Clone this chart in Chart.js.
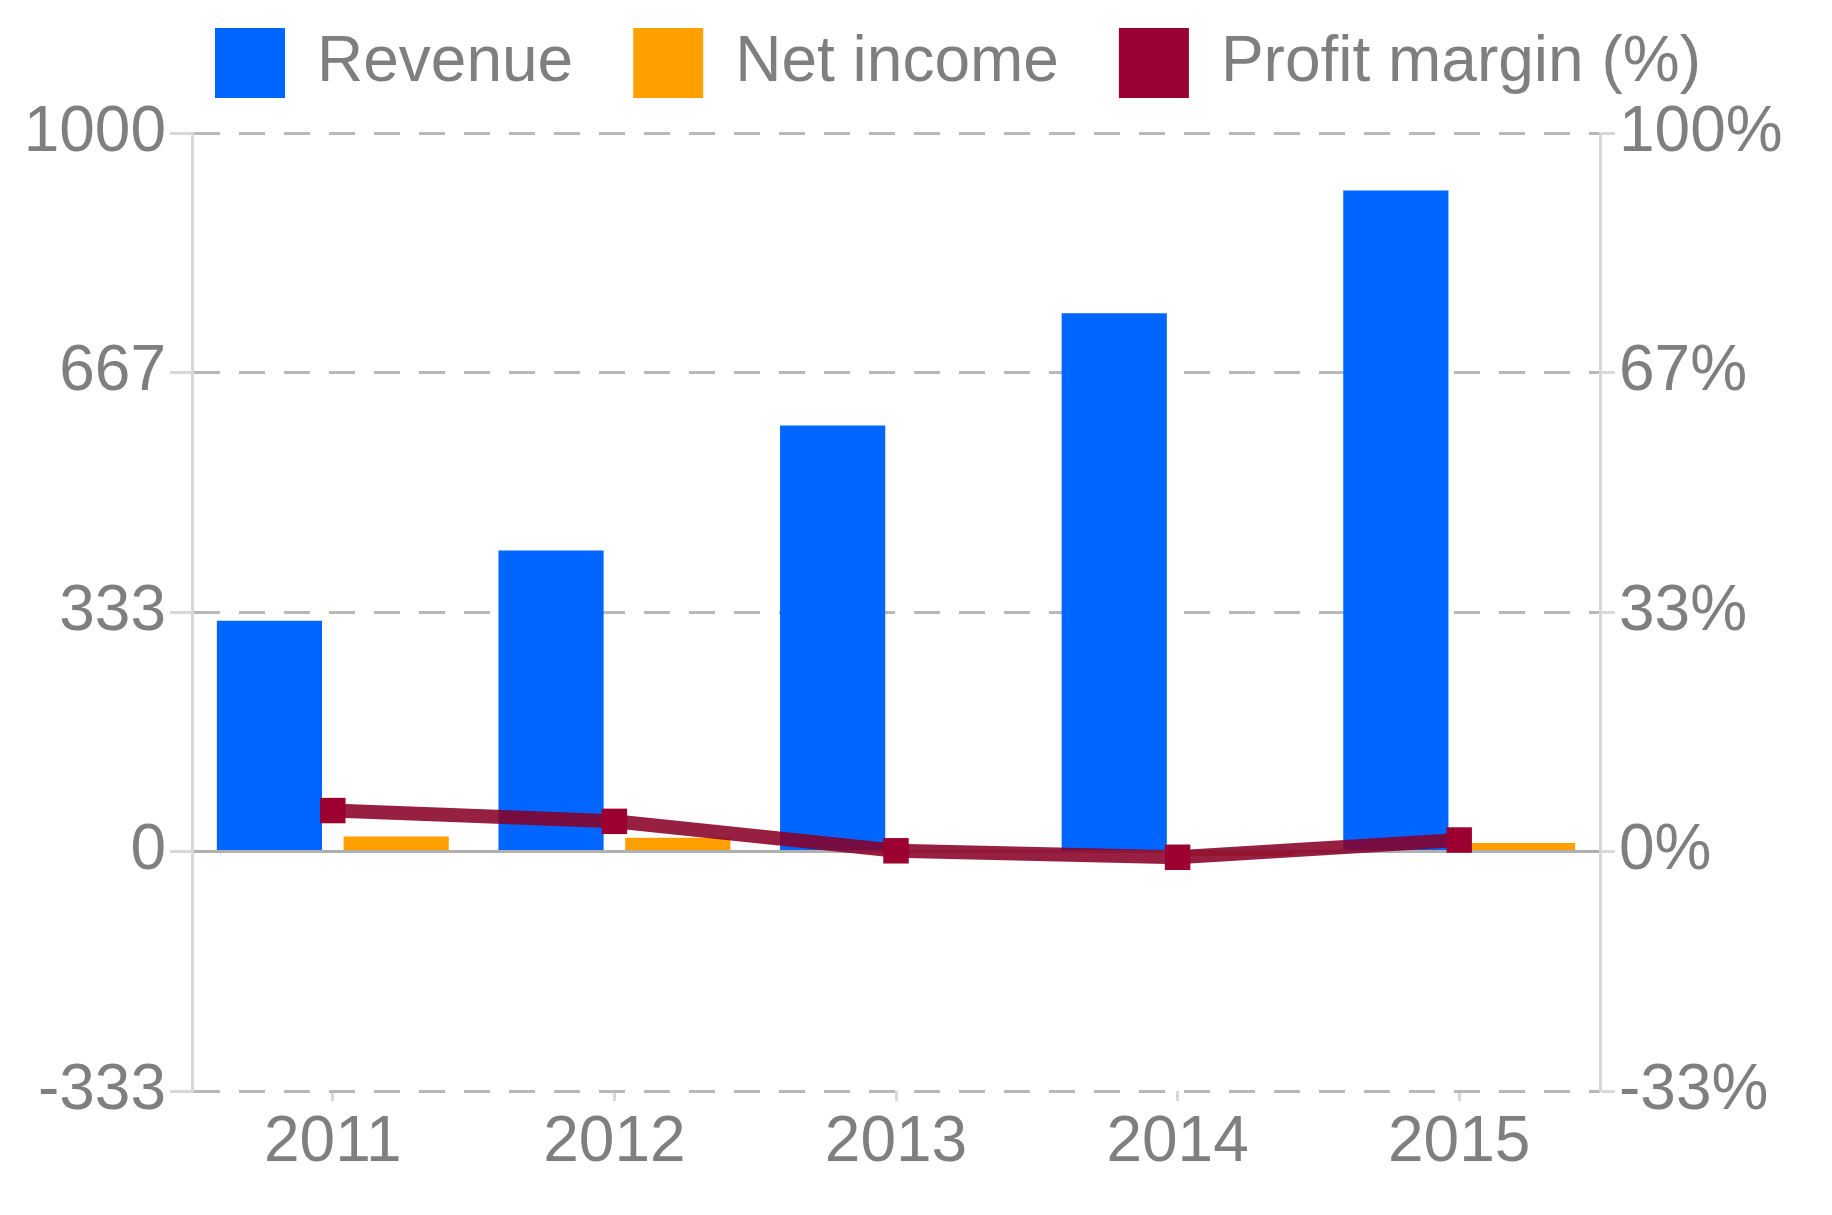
<!DOCTYPE html>
<html>
<head>
<meta charset="utf-8">
<title>Revenue, net income and profit margin</title>
<script src="https://cdn.jsdelivr.net/npm/chart.js@4.4.0/dist/chart.umd.min.js"></script>
<style>
  html, body { margin: 0; padding: 0; background: #fff; }
  #wrap { width: 1832px; height: 1215px; }
</style>
</head>
<body>
<div id="wrap"><canvas id="chart" width="1832" height="1215"></canvas></div>
<script>
// values
const years = ['2011', '2012', '2013', '2014', '2015'];
const revenue = [321, 419, 593, 749, 920];
const netIncome = [21, 19, 1, -6, 12];
const profitMargin = [5.7, 4.2, 0.1, -0.8, 1.6];

const leftTicks = [-333.33, 0, 333.33, 666.67, 1000];
const leftTickLabels = ['-333', '0', '333', '667', '1000'];
const rightTicks = [-33.33, 0, 33.33, 66.67, 100];
const rightTickLabels = ['-33%', '0%', '33%', '67%', '100%'];

const textGray = '#7f7f7f';
const gridGray = '#b8b8b8';
const axisGray = '#d8d8d8';

Chart.defaults.font.family = "'Liberation Sans', Arial, sans-serif";
Chart.defaults.font.size = 64;
Chart.defaults.color = textGray;

new Chart(document.getElementById('chart'), {
    type: 'bar',
    data: {
        labels: years,
        datasets: [
            {
                label: 'Revenue',
                data: revenue,
                yAxisID: 'y',
                order: 1,
                backgroundColor: '#0066ff',
                borderWidth: 0,
                categoryPercentage: 0.9,
                barPercentage: 0.83
            },
            {
                label: 'Net income',
                data: netIncome,
                yAxisID: 'y',
                order: 2,
                backgroundColor: '#ffa000',
                borderWidth: 0,
                categoryPercentage: 0.9,
                barPercentage: 0.83
            },
            {
                type: 'line',
                label: 'Profit margin (%)',
                data: profitMargin,
                yAxisID: 'y1',
                order: 0,   // drawn over the bars
                borderColor: 'rgba(135, 0, 40, 0.88)',
                backgroundColor: '#990033',
                borderWidth: 14,
                pointStyle: 'rect',
                pointRadius: 18,
                pointBorderWidth: 0,
                pointBackgroundColor: '#9b0031',
                tension: 0,
                fill: false
            }
        ]
    },
    options: {
        responsive: false,
        animation: false,
        devicePixelRatio: 1,
        // negative right padding shifts the centred legend to the right
        layout: { padding: { left: 0, right: -84, top: -32, bottom: 0 } },
        plugins: {
            tooltip: { enabled: false },
            legend: {
                position: 'top',
                labels: {
                    boxWidth: 70,
                    boxHeight: 70,
                    padding: 60,
                    color: textGray,
                    font: { size: 64 },
                    generateLabels: (chart) => {
                        const items = Chart.defaults.plugins.legend.labels.generateLabels(chart);
                        items.forEach(it => { it.lineWidth = 0; });
                        return items.sort((a, b) => a.datasetIndex - b.datasetIndex);
                    }
                }
            },
            // empty spacer between legend and plot
            title: { display: true, text: '', weight: 500, padding: 0, font: { size: 25, lineHeight: 1 } }
        },
        scales: {
            x: {
                offset: true,
                grid: {
                    offset: false,
                    drawOnChartArea: false,
                    tickLength: 10,
                    tickWidth: 3,
                    tickColor: axisGray
                },
                border: { display: false },
                ticks: { padding: 4, maxRotation: 0, color: textGray, font: { size: 64 } },
                afterFit: (scale) => { scale.height = 124; }
            },
            y: {
                position: 'left',
                min: -333.33,
                max: 1000,
                afterBuildTicks: (scale) => { scale.ticks = leftTicks.map(v => ({ value: v })); },
                afterFit: (scale) => { scale.width = 192; },
                ticks: {
                    padding: 4,
                    color: textGray,
                    font: { size: 64 },
                    callback: (v, i) => leftTickLabels[i]
                },
                grid: {
                    color: (ctx) => ctx.tick && ctx.tick.value === 0 ? '#b0b0b0' : gridGray,
                    lineWidth: 3,
                    tickLength: 22,
                    tickWidth: 3,
                    tickColor: axisGray
                },
                border: {
                    display: true,
                    color: axisGray,
                    width: 3,
                    dash: (ctx) => ctx.tick && ctx.tick.value === 0 ? [] : [26, 19]
                }
            },
            y1: {
                position: 'right',
                min: -33.33,
                max: 100,
                afterBuildTicks: (scale) => { scale.ticks = rightTicks.map(v => ({ value: v })); },
                afterFit: (scale) => { scale.width = 316; },
                ticks: {
                    padding: 4,
                    color: textGray,
                    font: { size: 64 },
                    callback: (v, i) => rightTickLabels[i]
                },
                grid: {
                    drawOnChartArea: false,
                    tickLength: 15,
                    tickWidth: 3,
                    tickColor: axisGray
                },
                border: { display: true, color: axisGray, width: 3 }
            }
        }
    }
});
</script>
</body>
</html>
